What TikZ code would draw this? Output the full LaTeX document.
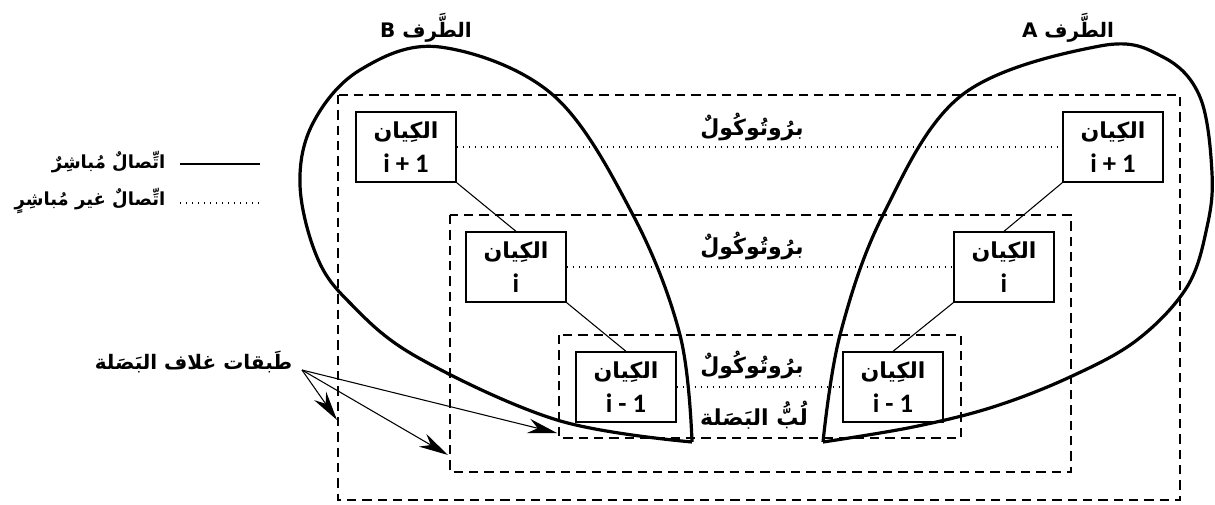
\documentclass[tikz,border=0pt]{standalone}
\usepackage{fontspec}
\setmainfont{Carlito}
\newfontfamily\arabicfont[Script=Arabic]{DejaVu Sans}
\TeXXeTstate=1
\usetikzlibrary{arrows.meta}
\newcommand{\artxt}[1]{{\arabicfont\beginR #1\endR}}
\newcommand{\enttxt}[1]{\artxt{الكِيان}\\{\fontsize{20}{26}\selectfont #1}}

\begin{document}
\begin{tikzpicture}
            [x=0.75pt, y=-0.75pt, >={Stealth[length=22pt, width=11pt]},
             entity/.style={draw, line width=1pt, minimum width=75pt, minimum height=52.5pt,
                            align=center, inner sep=1pt, font=\bfseries\fontsize{16.5}{26}\selectfont},
             layer/.style={line width=1.1pt, dash pattern=on 7pt off 4.5pt},
             link/.style={line width=0.8pt},
             proto/.style={line width=0.9pt, dash pattern=on 0.9pt off 3.6pt},
             side/.style={line width=2.4pt, line join=round},
             lbl/.style={font=\bfseries\fontsize{15}{18}\selectfont}]
            \useasboundingbox (0,0) rectangle (1215,504);

            % onion layers
            \draw[layer] (338,95) rectangle (1180,500);
            \draw[layer] (450,215) rectangle (1071,472);
            \draw[layer] (559,335) rectangle (961,438);

            % entities
            \node[entity] (eB3) at (406,147) {\enttxt{i + 1}};
            \node[entity] (eB2) at (516,267) {\enttxt{i}};
            \node[entity] (eB1) at (626,387) {\enttxt{i - 1}};
            \node[entity] (eA3) at (1113,147) {\enttxt{i + 1}};
            \node[entity] (eA2) at (1004,267) {\enttxt{i}};
            \node[entity] (eA1) at (893,387) {\enttxt{i - 1}};

            \node[lbl, font=\bfseries\fontsize{16.5}{18}\selectfont] (p3) at (752,127) {\artxt{برُوتُوكُولٌ}};
            \node[lbl, font=\bfseries\fontsize{16.5}{18}\selectfont] (p2) at (752,246) {\artxt{برُوتُوكُولٌ}};
            \node[lbl, font=\bfseries\fontsize{16.5}{18}\selectfont] (p1) at (752,365) {\artxt{برُوتُوكُولٌ}};
            \node[inner sep=0pt, font=\bfseries\fontsize{16.5}{18}\selectfont] (core) at (754,415) {\artxt{لُبُّ البَصَلة}};

            \path[link] (eB3.south east) edge (eB2.north);
            \path[link] (eB2.south east) edge (eB1.north);
            \path[link] (eA3.south west) edge (eA2.north);
            \path[link] (eA2.south west) edge (eA1.north);
            \path[proto] (eB3) edge (eA3);
            \path[proto] (eB2) edge (eA2);
            \path[proto] (eB1) edge (eA1);

            % sides
            \draw[side] plot[smooth, tension=0.6] coordinates {(692,442) (680,335) (633,215) (553,95)
                (440,47) (360,70) (313,123) (300,185) (317,257) (350,303) (417,357) (557,420) (692,442)};
            \draw[side] plot[smooth, tension=0.6] coordinates {(823,442) (840,335) (883,215) (962,95)
                (1100,46) (1163,57) (1200,97) (1212,173) (1207,227) (1187,287) (1137,340)
                (1070,377) (993,407) (913,427) (823,442)};
            \node[lbl] (sideB) at (426,28) {\artxt{الطَّرف B}};
            \node[lbl] (sideA) at (1068,28) {\artxt{الطَّرف A}};

            % legend
            \node[lbl, font=\bfseries\fontsize{13.5}{15}\selectfont, anchor=east] (direct) at (170,162) {\artxt{اتِّصالٌ مُباشِرٌ}};
            \node[lbl, font=\bfseries\fontsize{13.5}{15}\selectfont, anchor=east] (indirect) at (170,201) {\artxt{اتِّصالٌ غير مُباشِرٍ}};
            \coordinate (d1) at (180,164);
            \coordinate (d2) at (260,164);
            \coordinate (i1) at (180,203);
            \coordinate (i2) at (260,203);
            \path[link] (d1) edge (d2);
            \path[proto] (i1) edge (i2);

            % layers label
            \node[lbl, anchor=east] (layers) at (297,362) {\artxt{طَبقات غلاف البَصَلة}};
            \coordinate (lfrom) at (302,370);
            \coordinate (touter) at (337,420);
            \coordinate (tmiddle) at (448,455);
            \coordinate (tinner) at (557,433);
            \path [->, link] (lfrom) edge (touter);
            \path [->, link] (lfrom) edge (tmiddle);
            \path [->, link] (lfrom) edge (tinner);
        \end{tikzpicture}
\end{document}
